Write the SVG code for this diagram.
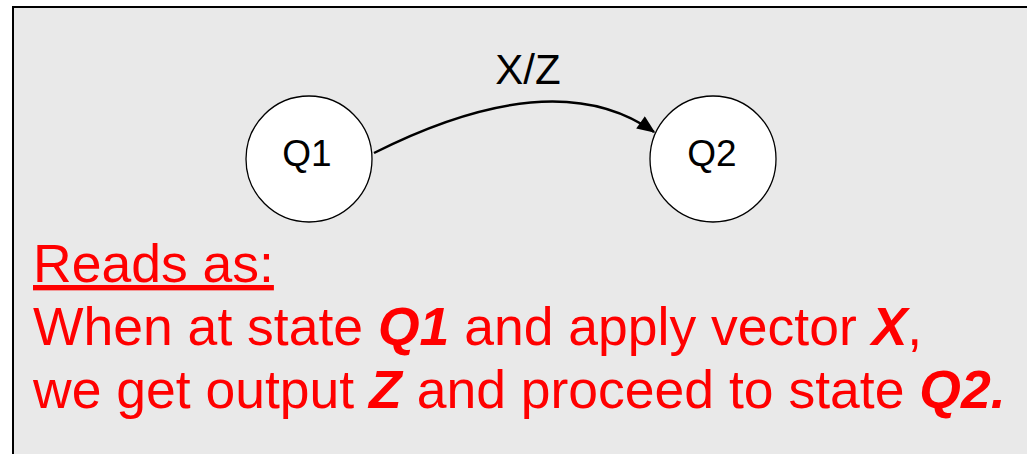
<svg xmlns="http://www.w3.org/2000/svg" width="1027" height="454" viewBox="0 0 1027 454">
  <style>
    .state { fill: #ffffff; stroke: #000000; stroke-width: 1.3; }
    .label { font-family: "Liberation Sans", Arial, sans-serif; fill: #000000; }
    .note { font-family: "Liberation Sans", Arial, sans-serif; fill: #ff0000; font-size: 53.5px; }
    .em { font-weight: bold; font-style: italic; }
    .edge { fill: none; stroke: #000000; stroke-width: 2.5; }
  </style>
  <defs>
    <marker id="head" viewBox="0 0 12 10" refX="11" refY="5" markerWidth="19" markerHeight="15" orient="auto" markerUnits="userSpaceOnUse">
      <path d="M0,0 L12,5 L0,10 z" fill="#000000"/>
    </marker>
  </defs>

  <!-- panel -->
  <rect x="13" y="7" width="1030" height="460" fill="#e9e9e9" stroke="#000000" stroke-width="2"/>

  <g id="connectors">
    <path class="edge" d="M374,153 Q555,62 654,132" marker-end="url(#head)"/>
    <text class="label" x="528" y="84" font-size="42" text-anchor="middle">X/Z</text>
  </g>

  <g id="Q1">
    <circle class="state" cx="309" cy="159" r="63"/>
    <text class="label" x="307" y="166" font-size="37" text-anchor="middle">Q1</text>
  </g>

  <g id="Q2">
    <circle class="state" cx="713" cy="159" r="63"/>
    <text class="label" x="712" y="166" font-size="37" text-anchor="middle">Q2</text>
  </g>

  <g id="caption">
    <text class="note" x="33" y="282" text-decoration="underline">Reads as:</text>
    <text class="note" x="33" y="345">When at state <tspan class="em">Q1</tspan> and apply vector <tspan class="em">X</tspan>,</text>
    <text class="note" x="33" y="408">we get output <tspan class="em">Z</tspan> and proceed to state <tspan class="em">Q2.</tspan></text>
  </g>
</svg>
